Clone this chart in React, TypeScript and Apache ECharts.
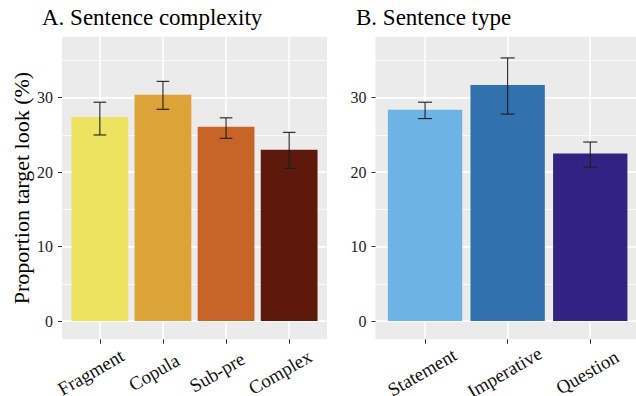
import React, { useEffect, useRef } from "react";
import * as echarts from "echarts";

const LEFT_TITLE = "A. Sentence complexity";
const RIGHT_TITLE = "B. Sentence type";
const Y_NAME = "Proportion target look (%)";

const LEFT_CATS = ["Fragment", "Copula", "Sub-pre", "Complex"];
const LEFT_MEANS = [27.4, 30.4, 26.1, 23.0];
const LEFT_LOWER = [25.0, 28.45, 24.55, 20.5];
const LEFT_UPPER = [29.4, 32.2, 27.3, 25.35];
const LEFT_COLORS = ["#EDE360", "#DCA339", "#C76427", "#5D190C"];

const RIGHT_CATS = ["Statement", "Imperative", "Question"];
const RIGHT_MEANS = [28.4, 31.7, 22.5];
const RIGHT_LOWER = [27.2, 27.8, 20.7];
const RIGHT_UPPER = [29.4, 35.35, 24.05];
const RIGHT_COLORS = ["#6DB3E4", "#3071AE", "#322383"];

const Y_TICKS = [0, 10, 20, 30];

const FONT = "'Liberation Serif', 'Times New Roman', serif";
const PANEL_TOP = 36.7;
const PANEL_H = 302.6;
const Y_MIN = -2.45;
const Y_MAX = 38.2;
const GRID_MAX = 40;

type PanelCfg = {
  left: number;
  width: number;
  cats: string[];
  means: number[];
  lower: number[];
  upper: number[];
  colors: string[];
  labelShift: number;
  capWidth: number;
  yName?: string;
};

const HIDDEN_LINE = { show: false, onZero: false };

function buildOption() {
  const grid: any[] = [];
  const xAxis: any[] = [];
  const yAxis: any[] = [];
  const series: any[] = [];
  const pxPerY = PANEL_H / (Y_MAX - Y_MIN);

  const panels: PanelCfg[] = [
    { left: 62, width: 265, cats: LEFT_CATS, means: LEFT_MEANS, lower: LEFT_LOWER, upper: LEFT_UPPER, colors: LEFT_COLORS, labelShift: -9, capWidth: 0.2, yName: Y_NAME },
    { left: 375.5, width: 264.3, cats: RIGHT_CATS, means: RIGHT_MEANS, lower: RIGHT_LOWER, upper: RIGHT_UPPER, colors: RIGHT_COLORS, labelShift: -3, capWidth: 0.17 },
  ];

  panels.forEach((p) => {
    const n = p.cats.length;
    const unit = p.width / (n - 1 + 1.2);
    const shift = p.labelShift / unit;

    // Panel grid (background, axis labels, bars)
    const gP = grid.length;
    grid.push({ left: p.left, top: PANEL_TOP, width: p.width, height: PANEL_H, show: true, backgroundColor: "#EBEBEB", borderWidth: 0, containLabel: false, outerBoundsMode: "none" });
    const xP = xAxis.length;
    xAxis.push({
      type: "value", gridIndex: gP, min: -0.6, max: n - 1 + 0.6, position: "bottom",
      axisLine: HIDDEN_LINE,
      axisTick: { show: true, customValues: p.cats.map((_, i) => i), length: 4.5, lineStyle: { color: "#333", width: 1 } },
      axisLabel: {
        show: true,
        customValues: p.cats.map((_, i) => i + shift),
        formatter: (v: number) => p.cats[Math.round(v - shift)] ?? "",
        rotate: 30, align: "center", verticalAlign: "middle", margin: 33,
        fontFamily: FONT, fontSize: 19, color: "#111",
      },
      splitLine: { show: false },
    });
    const yP = yAxis.length;
    yAxis.push({
      type: "value", gridIndex: gP, min: Y_MIN, max: Y_MAX, position: "left",
      axisLine: HIDDEN_LINE,
      axisTick: { show: true, customValues: Y_TICKS, length: 4, lineStyle: { color: "#333", width: 1 } },
      axisLabel: { show: true, customValues: Y_TICKS, margin: 9, fontFamily: FONT, fontSize: 16, color: "#222" },
      splitLine: { show: false },
      name: p.yName ?? "",
      nameLocation: "middle",
      nameGap: 30,
      nameRotate: 90,
      nameTextStyle: { fontFamily: FONT, fontSize: 22, color: "#000" },
    });

    // Horizontal gridlines grid
    const gH = grid.length;
    grid.push({ left: p.left, top: PANEL_TOP + (Y_MAX - GRID_MAX) * pxPerY, width: p.width, height: GRID_MAX * pxPerY, show: false, outerBoundsMode: "none" });
    const xH = xAxis.length;
    xAxis.push({ type: "value", gridIndex: gH, min: 0, max: 1, axisLine: HIDDEN_LINE, axisTick: { show: false }, axisLabel: { show: false }, splitLine: { show: false } });
    const yHmin = yAxis.length;
    yAxis.push({ type: "value", gridIndex: gH, min: 0, max: GRID_MAX, interval: 5, axisLine: HIDDEN_LINE, axisTick: { show: false }, axisLabel: { show: false }, splitLine: { show: true, showMaxLine: false, lineStyle: { color: "#FFFFFF", width: 0.75 } } });
    const yHmaj = yAxis.length;
    yAxis.push({ type: "value", gridIndex: gH, min: 0, max: GRID_MAX, interval: 10, axisLine: HIDDEN_LINE, axisTick: { show: false }, axisLabel: { show: false }, splitLine: { show: true, showMaxLine: false, lineStyle: { color: "#FFFFFF", width: 1.5 } } });

    // Vertical gridlines grid
    const gV = grid.length;
    grid.push({ left: p.left - 0.4 * unit, top: PANEL_TOP, width: (n + 1) * unit, height: PANEL_H, show: false, outerBoundsMode: "none" });
    const xV = xAxis.length;
    xAxis.push({ type: "value", gridIndex: gV, min: -1, max: n, interval: 1, axisLine: HIDDEN_LINE, axisTick: { show: false }, axisLabel: { show: false }, splitLine: { show: true, showMinLine: false, showMaxLine: false, lineStyle: { color: "#FFFFFF", width: 1.5 } } });
    const yV = yAxis.length;
    yAxis.push({ type: "value", gridIndex: gV, min: 0, max: 1, axisLine: HIDDEN_LINE, axisTick: { show: false }, axisLabel: { show: false }, splitLine: { show: false } });

    // empty series keep helper axes in use
    series.push({ type: "line", xAxisIndex: xH, yAxisIndex: yHmin, data: [], silent: true });
    series.push({ type: "line", xAxisIndex: xH, yAxisIndex: yHmaj, data: [], silent: true });
    series.push({ type: "line", xAxisIndex: xV, yAxisIndex: yV, data: [], silent: true });

    series.push({
      type: "bar", xAxisIndex: xP, yAxisIndex: yP, z: 2,
      barWidth: 0.9 * unit,
      data: p.means.map((v, i) => ({ value: [i, v], itemStyle: { color: p.colors[i] } })),
      silent: true,
    });
    series.push({
      type: "custom", xAxisIndex: xP, yAxisIndex: yP, z: 3, silent: true,
      data: p.means.map((_, i) => [i, p.lower[i], p.upper[i]]),
      renderItem: (params: any, api: any) => {
        const x = api.value(0);
        const lo = api.coord([x, api.value(1)]);
        const hi = api.coord([x, api.value(2)]);
        const hw = api.size([p.capWidth, 0])[0] / 2;
        const style = { stroke: "#1E1E1E", lineWidth: 1.1 };
        return {
          type: "group",
          children: [
            { type: "line", shape: { x1: lo[0], y1: lo[1], x2: hi[0], y2: hi[1] }, style },
            { type: "line", shape: { x1: lo[0] - hw, y1: lo[1], x2: lo[0] + hw, y2: lo[1] }, style },
            { type: "line", shape: { x1: hi[0] - hw, y1: hi[1], x2: hi[0] + hw, y2: hi[1] }, style },
          ],
        };
      },
    });
  });

  return {
    animation: false,
    title: [
      { text: LEFT_TITLE, left: 42, top: 6, padding: 0, textStyle: { fontFamily: FONT, fontSize: 23, fontWeight: "normal", color: "#000" } },
      { text: RIGHT_TITLE, left: 356, top: 6, padding: 0, textStyle: { fontFamily: FONT, fontSize: 23, fontWeight: "normal", color: "#000" } },
    ],
    grid,
    xAxis,
    yAxis,
    series,
  };
}

export default function App() {
  const ref = useRef<HTMLDivElement>(null);
  useEffect(() => {
    if (!ref.current) return;
    const chart = echarts.init(ref.current, undefined, { renderer: "svg" });
    chart.setOption(buildOption() as any);
    return () => chart.dispose();
  }, []);
  return <div ref={ref} style={{ position: "absolute", left: 0, top: 0, width: 636, height: 396, background: "#fff" }} />;
}
